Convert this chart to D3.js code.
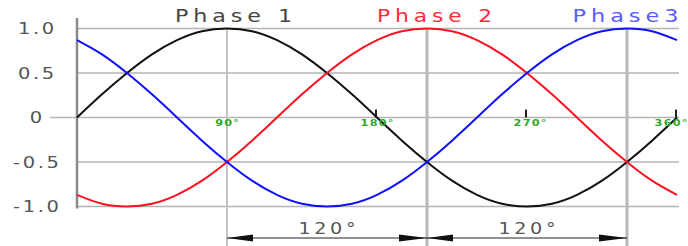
<!DOCTYPE html>
<html><head><meta charset="utf-8">
<script src="https://cdn.jsdelivr.net/npm/d3@7"></script>
<style>html,body{margin:0;padding:0;background:#fff;} svg{display:block;}</style>
</head><body>
<svg id="c" width="688" height="246"></svg>
<script>
// ---- data ----
const angles = [0,15,30,45,60,75,90,105,120,135,150,165,180,195,210,225,240,255,270,285,300,315,330,345,360];
const phase1 = [0,0.26,0.5,0.71,0.87,0.97,1,0.97,0.87,0.71,0.5,0.26,0,-0.26,-0.5,-0.71,-0.87,-0.97,-1,-0.97,-0.87,-0.71,-0.5,-0.26,0];
const phase2 = [-0.87,-0.97,-1,-0.97,-0.87,-0.71,-0.5,-0.26,0,0.26,0.5,0.71,0.87,0.97,1,0.97,0.87,0.71,0.5,0.26,0,-0.26,-0.5,-0.71,-0.87];
const phase3 = [0.87,0.71,0.5,0.26,0,-0.26,-0.5,-0.71,-0.87,-0.97,-1,-0.97,-0.87,-0.71,-0.5,-0.26,0,0.26,0.5,0.71,0.87,0.97,1,0.97,0.87];
const seriesNames = ["Phase 1","Phase 2","Phase3"];
const yTicks = [1.0,0.5,0,-0.5,-1.0];
const yTickLabels = ["1.0","0.5","0","-0.5","-1.0"];
const degTicks = [90,180,270,360];
const degLabels = ["90°","180°","270°","360°"];
const peakAngles = [90,210,330];
const spanLabels = ["120°","120°"];

// ---- drawing ----
const svg = d3.select("#c");
const x = d3.scaleLinear().domain([0,360]).range([77,677]);
const y = d3.scaleLinear().domain([-1,1]).range([206.5,28.5]);
const colors = ["#111","#ff1020","#1010ff"];
const titleColors = ["#444","#ff2a3a","#5a5aff"];

function stretchText(px, py, sx, txt, opts){
  const t = svg.append("text")
    .attr("transform", `translate(${px},${py}) scale(${sx},1)`)
    .attr("text-anchor", opts.anchor || "middle")
    .style("font-family","DejaVu Sans").style("font-size", opts.size+"px")
    .style("font-weight", opts.weight || "normal")
    .attr("fill", opts.fill).text(txt);
  if (opts.ls) t.style("letter-spacing", opts.ls+"px").attr("dx", opts.ls/2);
  return t;
}

// horizontal grid
svg.selectAll("line.hg").data(yTicks).enter().append("line")
  .attr("x1", d => d===0 ? 50 : x(0)).attr("x2", x(360)+2)
  .attr("y1", d => y(d)).attr("y2", d => y(d))
  .attr("stroke", "#b4b4b4").attr("stroke-width", 1.5);

// vertical peak lines
svg.selectAll("line.vg").data(peakAngles).enter().append("line")
  .attr("x1", d => x(d)).attr("x2", d => x(d))
  .attr("y1", y(1)).attr("y2", 246)
  .attr("stroke", (d,i) => i===0 ? "#c4c4c4" : "#b8b8b8")
  .attr("stroke-width", (d,i) => i===0 ? 2 : 3);

// left axis
svg.append("line").attr("x1", x(0)).attr("x2", x(0))
  .attr("y1", 18).attr("y2", y(-1)+2)
  .attr("stroke", "#8a8a8a").attr("stroke-width", 2.5);

// y labels
yTicks.forEach((d,i) => {
  stretchText(36, y(d)+5.5, 1.3, yTickLabels[i], {size:15, ls:2, fill:"#555"});
});

// small ticks on zero line
svg.selectAll("line.tk").data(degTicks.slice(1)).enter().append("line")
  .attr("x1", d => x(d)-1).attr("x2", d => x(d)-1)
  .attr("y1", y(0)-8).attr("y2", y(0))
  .attr("stroke", "#222").attr("stroke-width", 2);

// curves
const line = d3.line().x(d => x(d[0])).y(d => y(d[1])).curve(d3.curveNatural);
[phase1, phase2, phase3].forEach((s,i) => {
  svg.append("path").datum(angles.map((a,j) => [a, s[j]]))
    .attr("d", line).attr("fill","none")
    .attr("stroke", colors[i]).attr("stroke-width", 2);
});

// degree labels
const degShift = [0, 0, 3, -6];
degTicks.forEach((d,i) => {
  stretchText(x(d)+degShift[i], y(0)+8, 1.25, degLabels[i], {size:9, weight:"bold", ls:1, fill:"#2ea82e"});
});

// titles
const titleX = [236, 437, 628];
const titleW = [122, 120, 111];
seriesNames.forEach((n,i) => {
  svg.append("text").attr("x", titleX[i]-titleW[i]/2).attr("y", 22)
    .attr("textLength", titleW[i]).attr("lengthAdjust","spacingAndGlyphs")
    .style("font-family","DejaVu Sans").style("font-size","18px")
    .style("letter-spacing","4px")
    .attr("fill", titleColors[i]).text(n);
});

// dimension arrows
const ay = 238;
for (let k=0;k<2;k++){
  const a0 = x(peakAngles[k]), a1 = x(peakAngles[k+1]);
  svg.append("line").attr("x1",a0).attr("x2",a1).attr("y1",ay).attr("y2",ay)
    .attr("stroke","#222").attr("stroke-width",1);
  svg.append("path").attr("d",`M${a0},${ay} L${a0+26},${ay-3.5} L${a0+26},${ay+3.5} Z`).attr("fill","#111");
  svg.append("path").attr("d",`M${a1},${ay} L${a1-28},${ay-3.5} L${a1-28},${ay+3.5} Z`).attr("fill","#111");
  stretchText((a0+a1)/2, 234, 1.2, spanLabels[k], {size:16, ls:3, fill:"#555"});
}
</script>
</body></html>
